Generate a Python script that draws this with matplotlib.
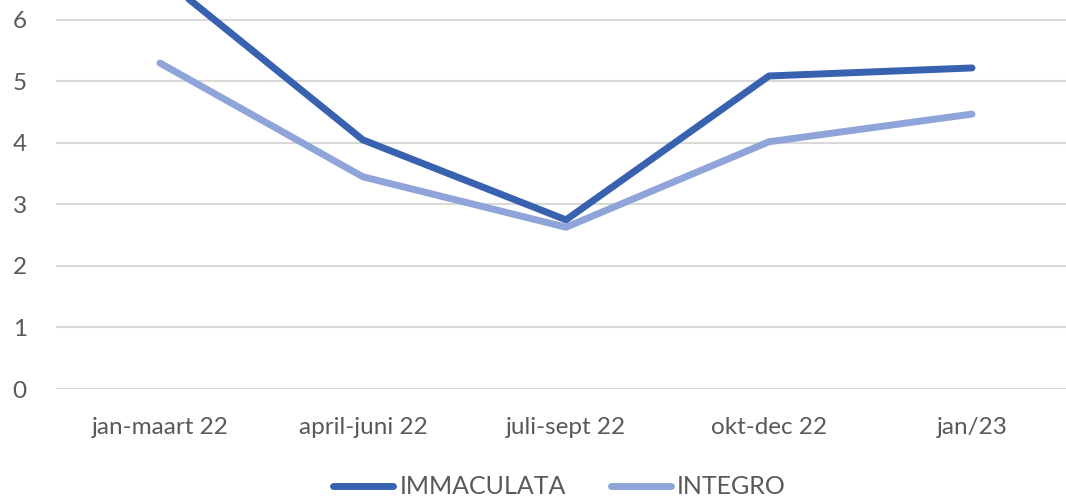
import matplotlib
matplotlib.use('Agg')
import matplotlib.pyplot as plt

# Data
periods = ['jan-maart 22', 'april-juni 22', 'juli-sept 22', 'okt-dec 22', 'jan/23']
immaculata = [6.72, 4.05, 2.75, 5.09, 5.22]
integro = [5.30, 3.45, 2.63, 4.02, 4.47]

plt.rcParams['font.family'] = ['Lato', 'DejaVu Sans']

fig = plt.figure(figsize=(10.66, 5), dpi=100)
ax = fig.add_axes([56 / 1066, 1 - 389 / 500, 1 - 56 / 1066, 389 / 500])

x = range(len(periods))
ax.plot(x, immaculata, color='#3862B0', lw=5, solid_capstyle='round',
        label='IMMACULATA', zorder=3)
ax.plot(x, integro, color='#8FA4D8', lw=5, solid_capstyle='round',
        label='INTEGRO', zorder=2)

ax.set_xlim(-0.512, 4.463)
ax.set_ylim(0, 6.325)
ax.set_yticks(range(7))
ax.set_xticks(list(x))
ax.set_xticklabels(periods)
ax.grid(axis='y', color='#D9D9D9', lw=1.5)
ax.set_axisbelow(True)
for s in ax.spines.values():
    s.set_visible(False)
ax.tick_params(length=0, labelsize=17.5, colors='#595959')
ax.tick_params(axis='y', pad=21)
ax.tick_params(axis='x', pad=20)

leg = fig.legend(loc='center', bbox_to_anchor=(0.525, 0.026), ncol=2, frameon=False,
                 fontsize=18, handlelength=2.4, handletextpad=0.25, columnspacing=1.8,
                 labelcolor='#595959')

fig.savefig('out.png', dpi=100)
